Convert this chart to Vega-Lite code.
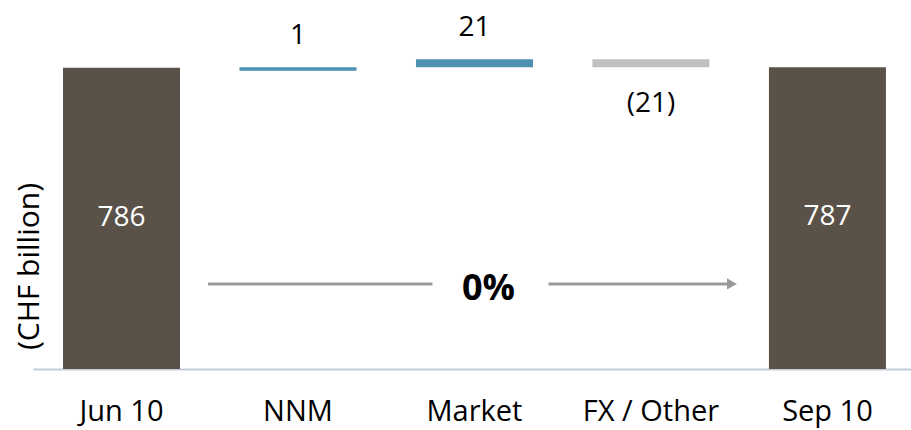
{
  "$schema": "https://vega.github.io/schema/vega-lite/v6.json",
  "width": 878,
  "height": 345,
  "autosize": {"type": "none"},
  "padding": {"left": 33, "top": 24, "right": 0, "bottom": 61},
  "background": "white",
  "config": {"view": {"stroke": null}, "font": "Open Sans"},
  "datasets": {
    "bars": [
      {"category": "Jun 10", "start": 0, "end": 786, "type": "total", "label": "786"},
      {"category": "NNM", "start": 786, "end": 787, "type": "increase", "label": "1"},
      {"category": "Market", "start": 787, "end": 808, "type": "increase", "label": "21"},
      {"category": "FX / Other", "start": 808, "end": 787, "type": "decrease", "label": "(21)"},
      {"category": "Sep 10", "start": 0, "end": 787, "type": "total", "label": "787"}
    ],
    "arrow": [
      {"from": "Jun 10", "via": "Market", "to": "Sep 10", "change": "0%"}
    ]
  },
  "layer": [
    {
      "data": {"name": "bars"},
      "mark": {"type": "bar", "y2Offset": {"expr": "datum.category === 'NNM' ? 3 : 0"}},
      "encoding": {
        "x": {
          "field": "category", "type": "nominal", "sort": null,
          "scale": {"domain": ["Jun 10", "NNM", "Market", "FX / Other", "Sep 10"], "paddingInner": 0.337, "paddingOuter": 0.156, "align": 0.545},
          "axis": {"title": null, "labelAngle": 0, "ticks": false, "tickSize": 0, "labelPadding": 28, "labelFontSize": 29, "labelFont": "Open Sans", "labelColor": "#000000", "domainColor": "#c3cbd9", "domainWidth": 2, "grid": false, "labelLimit": 0}
        },
        "y": {
          "field": "end", "type": "quantitative",
          "scale": {"domain": [0, 900], "nice": false},
          "axis": {"title": "(CHF billion)", "domain": false, "ticks": false, "labels": false, "grid": false, "titleFontSize": 30, "titleFont": "Open Sans", "titleFontWeight": "normal", "titleColor": "#000000", "titleX": 5, "titleY": 242, "titleAngle": -90, "titleAlign": "center", "titleBaseline": "alphabetic"}
        },
        "y2": {"field": "start"},
        "color": {"field": "type", "type": "nominal", "scale": {"domain": ["total", "increase", "decrease"], "range": ["#5a5249", "#4b8fb1", "#bfbfbf"]}, "legend": null}
      }
    },
    {
      "data": {"name": "bars"},
      "transform": [{"filter": "datum.type === 'total'"}],
      "mark": {"type": "text", "color": "#ffffff", "fontSize": 28, "baseline": "middle", "dy": 150},
      "encoding": {
        "x": {"field": "category", "type": "nominal"},
        "y": {"field": "end", "type": "quantitative"},
        "text": {"field": "label"}
      }
    },
    {
      "data": {"name": "bars"},
      "transform": [{"filter": "datum.type === 'increase'"}],
      "mark": {"type": "text", "color": "#000000", "fontSize": 28, "baseline": "alphabetic", "dy": -23},
      "encoding": {
        "x": {"field": "category", "type": "nominal"},
        "y": {"field": "end", "type": "quantitative"},
        "text": {"field": "label"}
      }
    },
    {
      "data": {"name": "bars"},
      "transform": [{"filter": "datum.type === 'decrease'"}],
      "mark": {"type": "text", "color": "#000000", "fontSize": 28, "baseline": "alphabetic", "dy": 45},
      "encoding": {
        "x": {"field": "category", "type": "nominal"},
        "y": {"field": "end", "type": "quantitative"},
        "text": {"field": "label"}
      }
    },
    {
      "data": {"name": "arrow"},
      "mark": {"type": "rule", "color": "#9a9a9a", "strokeWidth": 3, "xOffset": 28, "x2Offset": -42},
      "encoding": {
        "x": {"field": "from", "type": "nominal", "bandPosition": 1},
        "x2": {"field": "via", "bandPosition": 0.5},
        "y": {"datum": 222, "type": "quantitative"}
      }
    },
    {
      "data": {"name": "arrow"},
      "mark": {"type": "rule", "color": "#9a9a9a", "strokeWidth": 3, "xOffset": 74, "x2Offset": -40},
      "encoding": {
        "x": {"field": "via", "type": "nominal", "bandPosition": 0.5},
        "x2": {"field": "to", "bandPosition": 0},
        "y": {"datum": 222, "type": "quantitative"}
      }
    },
    {
      "data": {"name": "arrow"},
      "mark": {"type": "point", "shape": "triangle-right", "filled": true, "color": "#9a9a9a", "opacity": 1, "size": 130, "xOffset": -37},
      "encoding": {
        "x": {"field": "to", "type": "nominal", "bandPosition": 0},
        "y": {"datum": 222, "type": "quantitative"}
      }
    },
    {
      "data": {"name": "arrow"},
      "mark": {"type": "text", "color": "#000000", "fontSize": 36, "fontWeight": "bold", "baseline": "alphabetic", "dy": 16, "xOffset": 14},
      "encoding": {
        "x": {"field": "via", "type": "nominal", "bandPosition": 0.5},
        "y": {"datum": 222, "type": "quantitative"},
        "text": {"field": "change"}
      }
    }
  ]
}
